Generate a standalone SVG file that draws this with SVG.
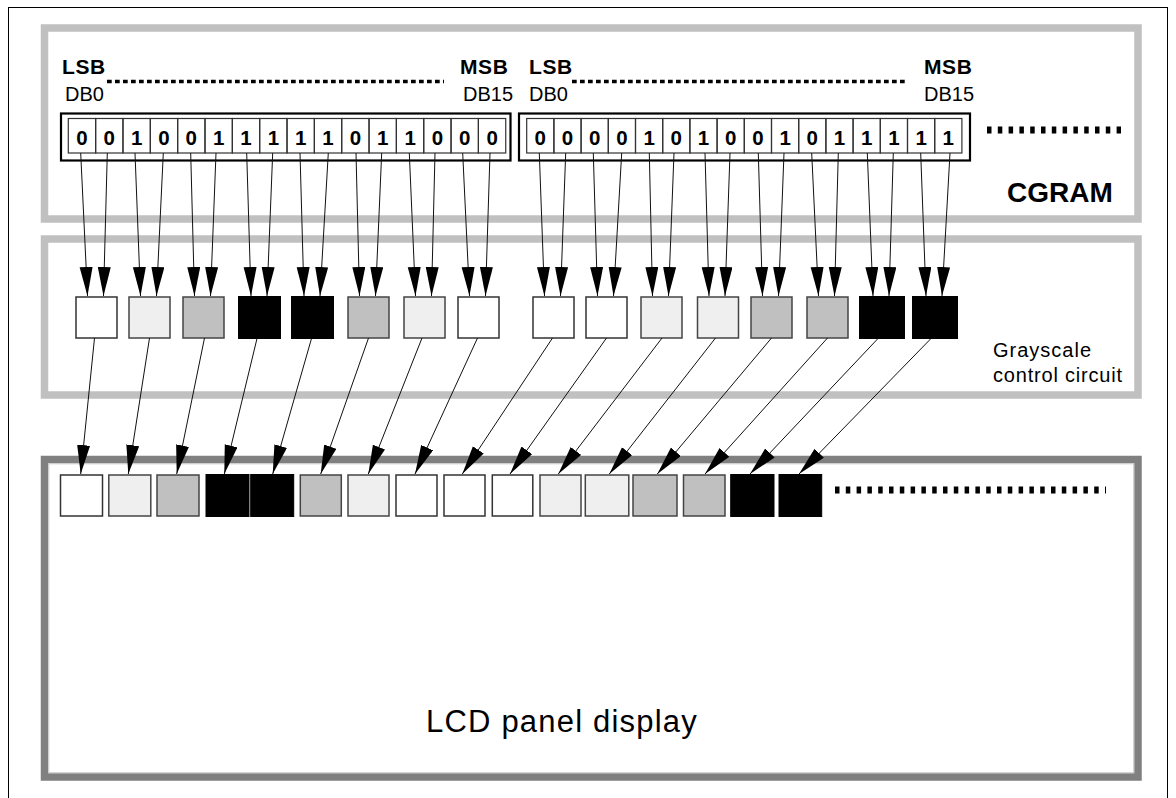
<svg xmlns="http://www.w3.org/2000/svg" width="1176" height="798" viewBox="0 0 1176 798">
<style>
.b{font-family:"Liberation Sans",Arial,sans-serif;font-weight:bold;font-size:20px;fill:#000}
.lm{font-family:"Liberation Sans",Arial,sans-serif;font-weight:bold;font-size:21px;letter-spacing:0.6px;fill:#000}
.r{font-family:"Liberation Sans",Arial,sans-serif;font-size:20px;fill:#000}
.d{font-family:"Liberation Sans",Arial,sans-serif;font-weight:bold;font-size:20.5px;fill:#000;text-anchor:middle}
.cell{fill:none;stroke:#333;stroke-width:1.2}
.W{fill:#fff;stroke:#333;stroke-width:1.5}
.L{fill:#efefef;stroke:#444;stroke-width:1.5}
.G{fill:#c0c0c0;stroke:#444;stroke-width:1.5}
.B{fill:#000;stroke:#000;stroke-width:1}
.con line{stroke:#111;stroke-width:1;marker-end:url(#ah)}
.dots{stroke:#000;stroke-width:3.3;stroke-dasharray:4.7 3.3}
.bigdots{stroke:#000;stroke-width:7;stroke-dasharray:4.5 6.3}
</style>
<defs>
<marker id="ah" markerUnits="userSpaceOnUse" markerWidth="30" markerHeight="14" refX="29" refY="6.5" orient="auto"><path d="M0,0 L29,6.5 L0,13 Z" fill="#000"/></marker>
</defs>
<rect x="0" y="0" width="1176" height="798" fill="#fff"/>
<rect x="8.5" y="7.5" width="1159" height="810" fill="none" stroke="#000" stroke-width="1"/>

<g id="cgram">
<rect x="44.5" y="28" width="1093.5" height="191" fill="none" stroke="#c0c0c0" stroke-width="7.5"/>
<text class="b" x="1007" y="201.5" style="font-size:28px">CGRAM</text>
<text class="lm" x="62" y="74">LSB</text>
<text class="r" x="65" y="100.5">DB0</text>
<text class="lm" x="460" y="74">MSB</text>
<text class="r" x="463" y="101">DB15</text>
<text class="lm" x="529" y="74">LSB</text>
<text class="r" x="529" y="101">DB0</text>
<text class="lm" x="924" y="74">MSB</text>
<text class="r" x="924" y="101">DB15</text>
<line class="dots" x1="107" y1="81.5" x2="444" y2="81.5"/>
<line class="dots" x1="572" y1="81.5" x2="908" y2="81.5"/>
<line class="bigdots" x1="987" y1="130" x2="1121" y2="130"/>
</g>

<g id="word1">
<rect x="61" y="113.5" width="449.5" height="47" fill="none" stroke="#000" stroke-width="2.2"/>
<g id="word1-cells">
<rect class="cell" x="68.3" y="118.5" width="27.34" height="34.5"/>
<rect class="cell" x="95.64" y="118.5" width="27.34" height="34.5"/>
<rect class="cell" x="122.98" y="118.5" width="27.34" height="34.5"/>
<rect class="cell" x="150.32" y="118.5" width="27.34" height="34.5"/>
<rect class="cell" x="177.66" y="118.5" width="27.34" height="34.5"/>
<rect class="cell" x="205" y="118.5" width="27.34" height="34.5"/>
<rect class="cell" x="232.34" y="118.5" width="27.34" height="34.5"/>
<rect class="cell" x="259.68" y="118.5" width="27.34" height="34.5"/>
<rect class="cell" x="287.02" y="118.5" width="27.34" height="34.5"/>
<rect class="cell" x="314.36" y="118.5" width="27.34" height="34.5"/>
<rect class="cell" x="341.7" y="118.5" width="27.34" height="34.5"/>
<rect class="cell" x="369.04" y="118.5" width="27.34" height="34.5"/>
<rect class="cell" x="396.38" y="118.5" width="27.34" height="34.5"/>
<rect class="cell" x="423.72" y="118.5" width="27.34" height="34.5"/>
<rect class="cell" x="451.06" y="118.5" width="27.34" height="34.5"/>
<rect class="cell" x="478.4" y="118.5" width="27.34" height="34.5"/>
</g>
<text class="d" x="82" y="145">0</text>
<text class="d" x="109.3" y="145">0</text>
<text class="d" x="136.6" y="145">1</text>
<text class="d" x="164" y="145">0</text>
<text class="d" x="191.3" y="145">0</text>
<text class="d" x="218.7" y="145">1</text>
<text class="d" x="246" y="145">1</text>
<text class="d" x="273.4" y="145">1</text>
<text class="d" x="300.7" y="145">1</text>
<text class="d" x="328" y="145">1</text>
<text class="d" x="355.4" y="145">0</text>
<text class="d" x="382.8" y="145">1</text>
<text class="d" x="410.1" y="145">1</text>
<text class="d" x="437.5" y="145">0</text>
<text class="d" x="464.8" y="145">0</text>
<text class="d" x="492.1" y="145">0</text>
</g>

<g id="word2">
<rect x="519" y="113.5" width="451" height="47" fill="none" stroke="#000" stroke-width="2.2"/>
<g id="word2-cells">
<rect class="cell" x="526.7" y="118.5" width="27.2" height="34.5"/>
<rect class="cell" x="553.9" y="118.5" width="27.2" height="34.5"/>
<rect class="cell" x="581.1" y="118.5" width="27.2" height="34.5"/>
<rect class="cell" x="608.3" y="118.5" width="27.2" height="34.5"/>
<rect class="cell" x="635.5" y="118.5" width="27.2" height="34.5"/>
<rect class="cell" x="662.7" y="118.5" width="27.2" height="34.5"/>
<rect class="cell" x="689.9" y="118.5" width="27.2" height="34.5"/>
<rect class="cell" x="717.1" y="118.5" width="27.2" height="34.5"/>
<rect class="cell" x="744.3" y="118.5" width="27.2" height="34.5"/>
<rect class="cell" x="771.5" y="118.5" width="27.2" height="34.5"/>
<rect class="cell" x="798.7" y="118.5" width="27.2" height="34.5"/>
<rect class="cell" x="825.9" y="118.5" width="27.2" height="34.5"/>
<rect class="cell" x="853.1" y="118.5" width="27.2" height="34.5"/>
<rect class="cell" x="880.3" y="118.5" width="27.2" height="34.5"/>
<rect class="cell" x="907.5" y="118.5" width="27.2" height="34.5"/>
<rect class="cell" x="934.7" y="118.5" width="27.2" height="34.5"/>
</g>
<text class="d" x="540.3" y="145">0</text>
<text class="d" x="567.5" y="145">0</text>
<text class="d" x="594.7" y="145">0</text>
<text class="d" x="621.9" y="145">0</text>
<text class="d" x="649.1" y="145">1</text>
<text class="d" x="676.3" y="145">0</text>
<text class="d" x="703.5" y="145">1</text>
<text class="d" x="730.7" y="145">0</text>
<text class="d" x="757.9" y="145">0</text>
<text class="d" x="785.1" y="145">1</text>
<text class="d" x="812.3" y="145">0</text>
<text class="d" x="839.5" y="145">1</text>
<text class="d" x="866.7" y="145">1</text>
<text class="d" x="893.9" y="145">1</text>
<text class="d" x="921.1" y="145">1</text>
<text class="d" x="948.3" y="145">1</text>
</g>

<g id="grayscale">
<rect x="44.5" y="239" width="1093.5" height="156" fill="none" stroke="#c0c0c0" stroke-width="7.5"/>
<text class="r" x="993" y="357" style="letter-spacing:1px">Grayscale</text>
<text class="r" x="993" y="382" style="letter-spacing:0.8px">control circuit</text>
</g>
<g id="gray-pixels">
<rect id="g1" class="W" x="76" y="297" width="41" height="41"/>
<rect id="g2" class="L" x="129" y="297" width="41" height="41"/>
<rect id="g3" class="G" x="183" y="297" width="41" height="41"/>
<rect id="g4" class="B" x="238.5" y="296.5" width="42" height="42"/>
<rect id="g5" class="B" x="291.5" y="296.5" width="42" height="42"/>
<rect id="g6" class="G" x="348" y="297" width="41" height="41"/>
<rect id="g7" class="L" x="404" y="297" width="41" height="41"/>
<rect id="g8" class="W" x="458" y="297" width="41" height="41"/>
<rect id="g9" class="W" x="533" y="297" width="41" height="41"/>
<rect id="g10" class="W" x="586" y="297" width="41" height="41"/>
<rect id="g11" class="L" x="641" y="297" width="41" height="41"/>
<rect id="g12" class="L" x="697.5" y="297" width="41" height="41"/>
<rect id="g13" class="G" x="751" y="297" width="41" height="41"/>
<rect id="g14" class="G" x="807" y="297" width="41" height="41"/>
<rect id="g15" class="B" x="859.5" y="296.5" width="45" height="42"/>
<rect id="g16" class="B" x="912.5" y="296.5" width="45" height="42"/>
</g>

<g id="lcd">
<rect x="44.5" y="459.5" width="1093.5" height="317.5" fill="none" stroke="#808080" stroke-width="7.5"/>
<rect x="48.8" y="463.8" width="1084.9" height="308.9" fill="none" stroke="#c8c8c8" stroke-width="1"/>
<text class="r" x="426" y="732" style="font-size:31px;letter-spacing:1.2px">LCD panel display</text>
<line class="bigdots" x1="835" y1="490" x2="1106" y2="490"/>
</g>
<g id="lcd-pixels">
<rect class="W" x="60.5" y="475" width="42" height="41"/>
<rect class="L" x="108.8" y="475" width="42" height="41"/>
<rect class="G" x="157" y="475" width="42" height="41"/>
<rect class="B" x="206" y="474.5" width="43" height="42"/>
<rect class="B" x="250.7" y="474.5" width="43" height="42"/>
<rect class="G" x="300.3" y="475" width="41" height="41"/>
<rect class="L" x="348" y="475" width="41" height="41"/>
<rect class="W" x="396" y="475" width="41" height="41"/>
<rect class="W" x="444" y="475" width="41" height="41"/>
<rect class="W" x="492.3" y="475" width="40.5" height="41"/>
<rect class="L" x="540" y="475" width="41" height="41"/>
<rect class="L" x="585.3" y="475" width="43.5" height="41"/>
<rect class="G" x="633" y="475" width="44" height="41"/>
<rect class="G" x="683.5" y="475" width="41.5" height="41"/>
<rect class="B" x="730.7" y="474.5" width="43.3" height="42"/>
<rect class="B" x="779" y="474.5" width="42.7" height="42"/>
</g>

<g id="connectors" class="con">
<line x1="80.7" y1="153" x2="87.5" y2="296"/>
<line x1="107.3" y1="153" x2="103.5" y2="296"/>
<line x1="135" y1="153" x2="140.5" y2="296"/>
<line x1="163.3" y1="153" x2="156.5" y2="296"/>
<line x1="190.7" y1="153" x2="194.5" y2="296"/>
<line x1="216" y1="153" x2="210.5" y2="296"/>
<line x1="246.7" y1="153" x2="251" y2="296"/>
<line x1="272.7" y1="153" x2="267" y2="296"/>
<line x1="300" y1="153" x2="304" y2="296"/>
<line x1="328.3" y1="153" x2="320" y2="296"/>
<line x1="356" y1="153" x2="359.5" y2="296"/>
<line x1="381.7" y1="153" x2="375.5" y2="296"/>
<line x1="409.3" y1="153" x2="415.5" y2="296"/>
<line x1="435" y1="153" x2="431.5" y2="296"/>
<line x1="462.7" y1="153" x2="469.5" y2="296"/>
<line x1="490" y1="153" x2="485.5" y2="296"/>
<line x1="539.3" y1="153" x2="544.5" y2="296"/>
<line x1="565.7" y1="153" x2="560.5" y2="296"/>
<line x1="593.3" y1="153" x2="597.5" y2="296"/>
<line x1="621.7" y1="153" x2="613.5" y2="296"/>
<line x1="649.3" y1="153" x2="652.5" y2="296"/>
<line x1="674" y1="153" x2="668.5" y2="296"/>
<line x1="705" y1="153" x2="709" y2="296"/>
<line x1="730" y1="153" x2="725" y2="296"/>
<line x1="758.3" y1="153" x2="762.5" y2="296"/>
<line x1="784" y1="153" x2="778.5" y2="296"/>
<line x1="811.7" y1="153" x2="818.5" y2="296"/>
<line x1="838.3" y1="153" x2="834.5" y2="296"/>
<line x1="867.3" y1="153" x2="873" y2="296"/>
<line x1="893.3" y1="153" x2="889" y2="296"/>
<line x1="920.7" y1="153" x2="926" y2="296"/>
<line x1="950" y1="153" x2="942" y2="296"/>
<line x1="94.5" y1="338" x2="80.7" y2="474"/>
<line x1="149.5" y1="338" x2="128.3" y2="474"/>
<line x1="204.5" y1="338" x2="176.7" y2="474"/>
<line x1="257" y1="338.5" x2="224.3" y2="474"/>
<line x1="311.5" y1="338.5" x2="272.7" y2="474"/>
<line x1="368.5" y1="338" x2="320.7" y2="474"/>
<line x1="422" y1="338" x2="368.3" y2="474"/>
<line x1="477.5" y1="338" x2="415" y2="474"/>
<line x1="552.5" y1="338" x2="462.3" y2="474"/>
<line x1="606.5" y1="338" x2="510" y2="474"/>
<line x1="662" y1="338" x2="558.3" y2="474"/>
<line x1="715.5" y1="338" x2="609.3" y2="474"/>
<line x1="771.5" y1="338" x2="657.3" y2="474"/>
<line x1="827.5" y1="338" x2="705" y2="474"/>
<line x1="878" y1="338.5" x2="750" y2="474"/>
<line x1="931" y1="338.5" x2="799" y2="474"/>
</g>
</svg>
